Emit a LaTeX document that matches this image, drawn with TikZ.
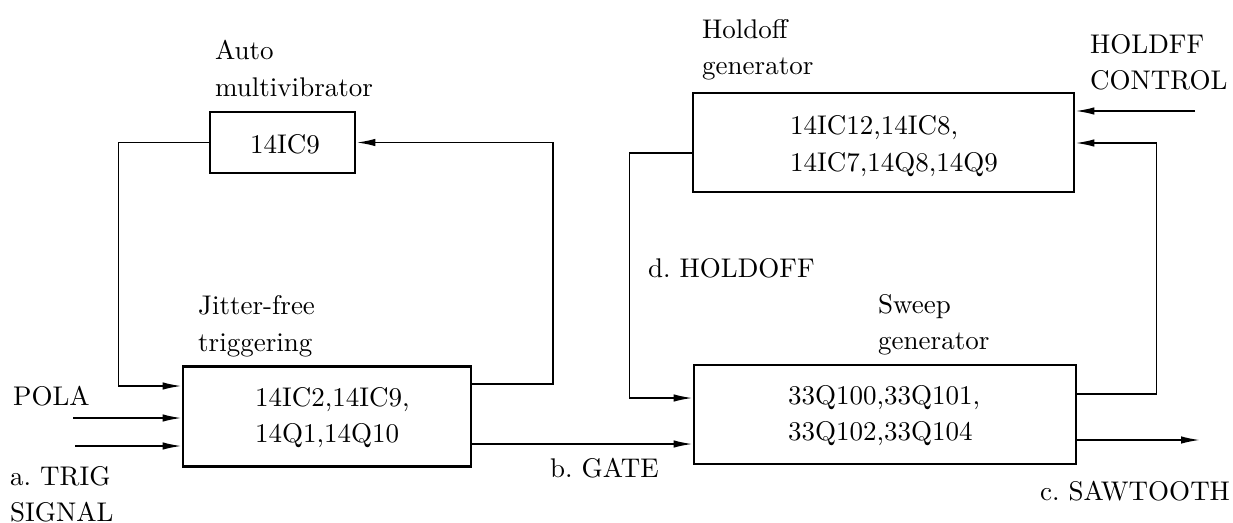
\documentclass[tikz,border=0pt]{standalone}
\usepackage{fontspec}
\setmainfont{lmroman10-regular}[Extension=.otf]
\usetikzlibrary{arrows.meta,calc}
\frenchspacing
\begin{document}
\begin{tikzpicture}[x=1pt,y=-1pt,
  every node/.style={font=\fontsize{27}{36.5}\selectfont\frenchspacing, inner sep=0pt},
  blk/.style={draw, line width=2.8pt},
  lbl/.style={anchor=base west, align=left},
  arr/.style={line width=1.7pt, -{Latex[length=19pt,width=7.5pt]}}]
\useasboundingbox (0,0) rectangle (1233,522);
% blocks
\node[blk, minimum width=145pt, minimum height=61pt] (auto) at (282.5,142.5) {};
\node[blk, minimum width=288pt, minimum height=100pt] (jit) at (327,416.5) {};
\node[blk, minimum width=381pt, minimum height=99pt] (ho) at (883.5,142.5) {};
\node[blk, minimum width=382pt, minimum height=99pt] (sw) at (885,414.5) {};
% block texts (base = baseline of the last line)
\node[lbl] (tauto) at (250,153) {14IC9};
\node[lbl] (tjit) at (255,442.5) {14IC2,14IC9,\\14Q1,14Q10};
\node[lbl] (tho) at (790,171) {14IC12,14IC8,\\14IC7,14Q8,14Q9};
\node[lbl] (tsw) at (788,440.5) {33Q100,33Q101,\\33Q102,33Q104};
% labels
\node[lbl] (lauto) at (215,96) {Auto\\multivibrator};
\node[lbl] (ljit) at (198,351) {Jitter-free\\triggering};
\node[lbl] (lho) at (702,74.5) {Holdoff\\generator};
\node[lbl] (lhc) at (1090,89.5) {HOLDFF\\CONTROL};
\node[lbl] (lhold) at (648,277) {d. HOLDOFF};
\node[lbl] (lsw) at (878,349.5) {Sweep\\generator};
\node[lbl] (lpola) at (13,405) {POLA};
\node[lbl] (ltrig) at (10,521.5) {a. TRIG\\SIGNAL};
\node[lbl] (lgate) at (550,477) {b. GATE};
\node[lbl] (lsaw) at (1040,500) {c. SAWTOOTH};
% coordinates
\coordinate (L1) at (118.5,0);
\coordinate (R1) at (553,0);
\coordinate (L2) at (629.5,0);
\coordinate (R2) at (1156.5,0);
\coordinate (jin1) at (jit.west |- 0,386);
\coordinate (p2) at (73,418);
\coordinate (p3) at (75,446);
\coordinate (jout1) at (jit.east |- 0,384);
\coordinate (jout2) at (jit.east |- 0,444);
\coordinate (hout) at (ho.west |- 0,153);
\coordinate (sin1) at (sw.west |- 0,398);
\coordinate (sout1) at (sw.east |- 0,394);
\coordinate (sout2) at (sw.east |- 0,440);
\coordinate (saw) at (1200,440);
\coordinate (hin1) at (ho.east |- 0,111);
\coordinate (hin2) at (ho.east |- 0,143);
\coordinate (hc) at (1195,111);
% connectors
\draw[arr] (auto.west) -| (L1 |- jin1) -- (jin1);
\draw[arr] (jout1) -| (R1 |- auto.east) -- (auto.east);
\draw[arr] (p2) -- (p2 -| jit.west);
\draw[arr] (p3) -- (p3 -| jit.west);
\draw[arr] (jout2) -- (jout2 -| sw.west);
\draw[arr] (hout) -| (L2 |- sin1) -- (sin1);
\draw[arr] (sout1) -| (R2 |- hin2) -- (hin2);
\draw[arr] (hc) -- (hin1);
\draw[arr] (sout2) -- (saw);
\end{tikzpicture}
\end{document}
